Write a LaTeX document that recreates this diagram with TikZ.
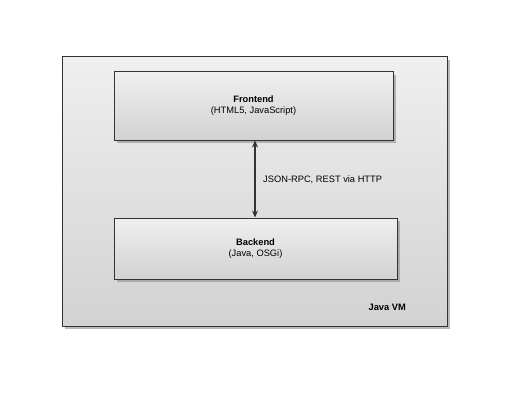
\documentclass[tikz,border=0pt]{standalone}
\usepackage{fontspec}
\setmainfont{Liberation Sans}
\usetikzlibrary{arrows.meta,shadows}
\definecolor{edge}{HTML}{333333}
\definecolor{topg}{HTML}{EFEFEF}
\definecolor{botg}{HTML}{D2D2D2}
\tikzset{
  box/.style={draw=edge, line width=1pt, top color=topg, bottom color=botg,
    drop shadow={shadow xshift=3pt, shadow yshift=-3pt, fill=black!45, opacity=0.6},
    inner sep=0pt, align=center, font=\fontsize{9.3}{11}\selectfont},
  conn/.style={draw=edge, line width=1.2pt, {Stealth[length=7pt,width=6pt]}-{Stealth[length=7pt,width=6pt]}},
  lbl/.style={font=\fontsize{9.3}{11}\selectfont, anchor=west, inner sep=0pt}
}
\begin{document}
\begin{tikzpicture}[x=1pt,y=-1pt]
\useasboundingbox (0,0) rectangle (525,404);
\node[box, minimum width=385pt, minimum height=269pt] (vm) at (254.5,191.5) {};
\node[box, minimum width=279pt, minimum height=68pt] (fe) at (253.5,106) {\textbf{Frontend}\\(HTML5, JavaScript)};
\node[box, minimum width=283pt, minimum height=61pt] (be) at (255.5,248.5) {\textbf{Backend}\\(Java, OSGi)};
\node[font=\fontsize{9.3}{11}\selectfont\bfseries, anchor=east, inner sep=0pt] (vml) at (406,307) {Java VM};
\draw[conn] (fe.south -| 255,0) -- (be.north -| 255,0);
\node[lbl] (proto) at (263,180) {JSON-RPC, REST via HTTP};
\end{tikzpicture}
\end{document}
